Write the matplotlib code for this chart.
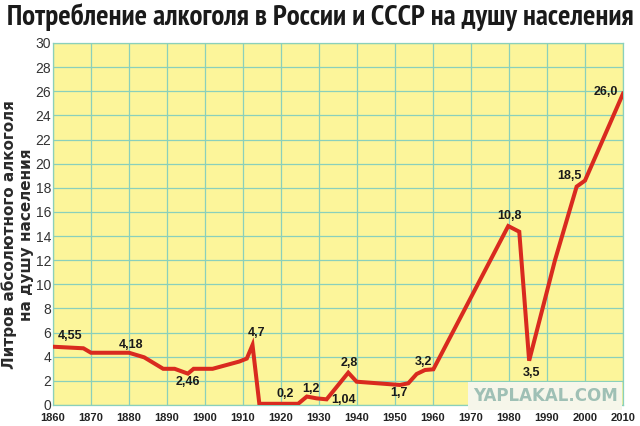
import matplotlib.pyplot as plt
from matplotlib import font_manager

# data
years = [1860, 1868, 1870, 1880, 1884, 1889, 1892, 1895.5, 1897, 1902, 1909, 1911,
         1912.5, 1914.3, 1924.5, 1926.8, 1929.4, 1932, 1937.7, 1939.9, 1951.3, 1953.5,
         1955.7, 1957.9, 1960.1, 1979.8, 1982.7, 1985.3, 1992.1, 1997.8, 2000, 2010]
litres = [4.83, 4.7, 4.33, 4.33, 3.95, 3.0, 3.0, 2.6, 3.0, 3.0, 3.6, 3.85,
          4.97, 0.1, 0.1, 0.7, 0.55, 0.47, 2.68, 1.93, 1.66, 1.8,
          2.57, 2.9, 2.96, 14.83, 14.36, 3.67, 12.0, 18.1, 18.6, 25.8]

ann_text = ['4,55', '4,18', '2,46', '4,7', '0,2', '1,2', '1,04', '2,8', '1,7', '3,2',
            '3,5', '10,8', '18,5', '26,0']
ann_x = [1864.5, 1880.5, 1895.5, 1913.5, 1921, 1928, 1936.5, 1938, 1951, 1957.5,
         1986, 1980, 1995.8, 2005.5]
ann_y = [5.75, 5.0, 1.9, 6.0, 0.95, 1.35, 0.45, 3.5, 1.0, 3.6,
         2.65, 15.7, 19.0, 25.9]

xticks = list(range(1860, 2011, 10))
yticks = list(range(0, 31, 2))

title = 'Потребление алкоголя в России и СССР на душу населения'

bg = '#fcf59a'
grid_c = '#8ad0bb'
red = '#d92a1f'

fig = plt.figure(figsize=(6.4, 4.26), dpi=100)
renderer = fig.canvas.get_renderer()

# the original title is set in a narrow bold face: take the narrowest installed
# one that has every letter of the title
need = set(ord(c) for c in title if c != ' ')
cands = [font_manager.FontProperties(family='Liberation Sans', weight='bold')]
for f in font_manager.fontManager.ttflist:
    nm = (f.name + ' ' + f.fname).lower()
    if not ('condensed' in nm or 'narrow' in nm):
        continue
    if f.weight not in ('bold', 700, 'heavy', 800, 'black', 900):
        continue
    if 'oblique' in nm or 'italic' in nm:
        continue
    try:
        cmap = font_manager.get_font(f.fname).get_charmap()
    except Exception:
        continue
    if need <= set(cmap):
        cands.append(font_manager.FontProperties(fname=f.fname))
best, best_w = None, None
for fp in cands:
    t = fig.text(0, 0, title, fontproperties=fp, fontsize=22)
    w = t.get_window_extent(renderer).width
    t.remove()
    if best_w is None or w < best_w:
        best, best_w = fp, w

ax = fig.add_axes([53 / 640, 21 / 426, 570 / 640, 362 / 426])
ax.set_facecolor(bg)
ax.set_xlim(1860, 2010)
ax.set_ylim(0, 30)
ax.set_xticks(xticks)
ax.set_yticks(yticks)
ax.grid(True, color=grid_c, linewidth=0.9)
ax.set_axisbelow(True)
for s in ax.spines.values():
    s.set_color(grid_c)
    s.set_linewidth(0.9)
ax.tick_params(length=0)
ax.tick_params(axis='y', pad=1.2, labelsize=10, labelcolor='#333333')
ax.tick_params(axis='x', pad=6, labelsize=8, labelcolor='#222222')
for t in ax.get_xticklabels():
    t.set_fontweight('bold')
    t.set_family('Liberation Sans')
for t in ax.get_yticklabels():
    t.set_family('Liberation Sans')

ax.plot(years, litres, color=red, linewidth=2.9, solid_joinstyle='miter', zorder=3)

for txt, x, y in zip(ann_text, ann_x, ann_y):
    ax.text(x, y, txt, ha='center', va='center', fontsize=9, fontweight='bold',
            family='Liberation Sans', color='#1a1a1a', zorder=4)

ax.text(1989.5, 0.75, 'YAPLAKAL.COM', ha='center', va='center', fontsize=12,
        fontweight='bold', family='DejaVu Sans', color='#9fc0b5', zorder=5,
        bbox=dict(boxstyle='square,pad=0.3', facecolor='#f6f6ea', edgecolor='none'))

size = 22 * min(1.0, 624 / best_w)
fig.text(0.5, 1 - 17 / 426, title, ha='center', va='center', fontsize=size,
         fontproperties=best, color='#1a1a1a')

fig.text(9 / 640, 1 - 235 / 426, 'Литров абсолютного алкоголя', rotation=90,
         ha='center', va='center', fontsize=11, fontweight='bold',
         family='DejaVu Sans', color='#2a2a2a')
fig.text(27 / 640, 1 - 235 / 426, 'на душу населения', rotation=90,
         ha='center', va='center', fontsize=11, fontweight='bold',
         family='DejaVu Sans', color='#2a2a2a')

fig.savefig('out.png', dpi=100, facecolor='white')
